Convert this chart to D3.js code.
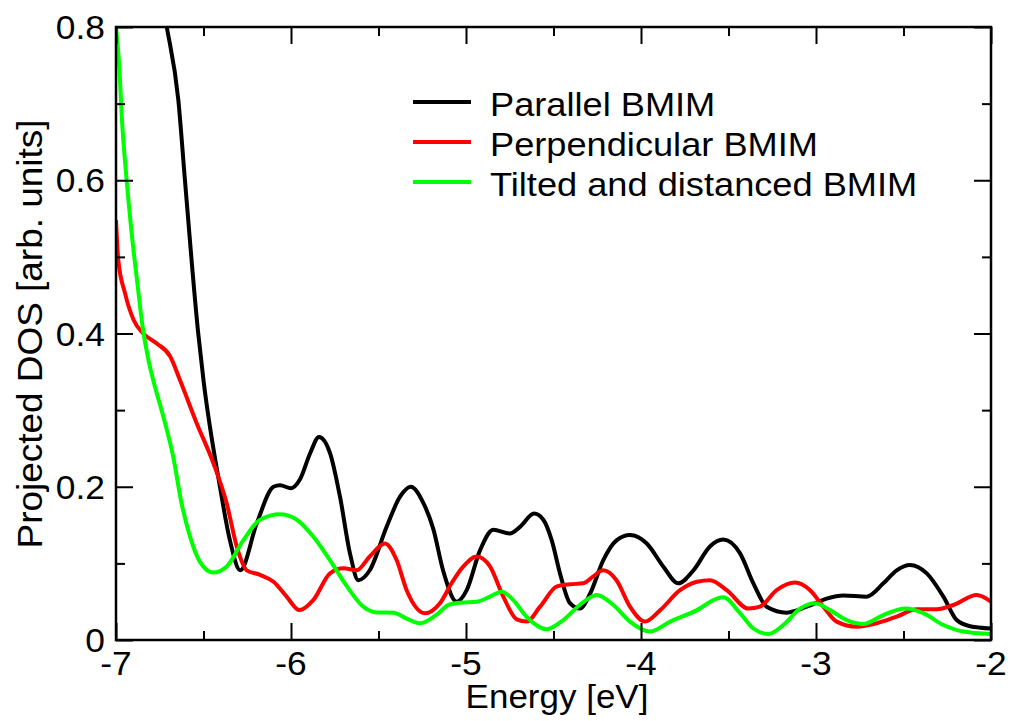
<!DOCTYPE html>
<html><head><meta charset="utf-8">
<script src="https://cdn.jsdelivr.net/npm/d3@7"></script>
<style>html,body{margin:0;padding:0;background:#fff;}</style>
</head><body>
<svg id="c" width="1013" height="721"></svg>
<script>
// Data (Energy [eV], Projected DOS)
const parallelE = [-6.76,-6.71,-6.644,-6.606,-6.53,-6.50,-6.406,-6.349,-6.29,-6.196,-6.10,-6.063,-6.0,-5.95,-5.89,-5.84,-5.777,-5.72,-5.663,-5.615,-5.55,-5.453,-5.377,-5.316,-5.244,-5.187,-5.13,-5.053,-4.996,-4.92,-4.844,-4.75,-4.69,-4.611,-4.558,-4.51,-4.463,-4.406,-4.35,-4.29,-4.216,-4.14,-4.063,-3.967,-3.873,-3.787,-3.7,-3.606,-3.53,-3.434,-3.358,-3.282,-3.167,-3.053,-2.939,-2.844,-2.71,-2.615,-2.539,-2.463,-2.367,-2.272,-2.196,-2.12,-2.0];
const parallelV = [0.86,0.80,0.705,0.60,0.40,0.339,0.20,0.13,0.091,0.152,0.20,0.202,0.198,0.209,0.244,0.265,0.244,0.187,0.113,0.078,0.091,0.148,0.187,0.20,0.179,0.145,0.09,0.05,0.065,0.117,0.144,0.139,0.148,0.165,0.157,0.13,0.087,0.048,0.041,0.061,0.104,0.13,0.137,0.126,0.096,0.074,0.091,0.122,0.131,0.113,0.074,0.0435,0.0357,0.0435,0.054,0.058,0.0566,0.074,0.091,0.098,0.087,0.0566,0.026,0.018,0.015];

const perpE = [-7.0,-6.987,-6.949,-6.9,-6.844,-6.767,-6.69,-6.634,-6.539,-6.444,-6.367,-6.31,-6.253,-6.177,-6.1,-6.025,-5.952,-5.873,-5.777,-5.70,-5.625,-5.55,-5.463,-5.396,-5.339,-5.234,-5.149,-5.08,-5.015,-4.939,-4.863,-4.787,-4.71,-4.653,-4.577,-4.48,-4.406,-4.33,-4.273,-4.216,-4.14,-4.063,-3.977,-3.89,-3.777,-3.68,-3.606,-3.51,-3.386,-3.32,-3.225,-3.12,-3.034,-2.958,-2.882,-2.767,-2.653,-2.539,-2.425,-2.31,-2.215,-2.082,-2.0];
const perpV = [0.548,0.496,0.453,0.418,0.40,0.387,0.37,0.339,0.283,0.231,0.178,0.122,0.091,0.085,0.076,0.0566,0.039,0.052,0.087,0.0936,0.091,0.109,0.126,0.104,0.065,0.035,0.048,0.075,0.096,0.109,0.096,0.0566,0.027,0.024,0.0435,0.07,0.0727,0.074,0.083,0.091,0.078,0.0435,0.024,0.039,0.065,0.076,0.078,0.065,0.041,0.0435,0.065,0.075,0.065,0.0435,0.024,0.0174,0.0218,0.0305,0.040,0.040,0.0457,0.0587,0.05];

const tiltE = [-7.0,-6.981,-6.967,-6.939,-6.91,-6.878,-6.848,-6.815,-6.787,-6.73,-6.673,-6.625,-6.577,-6.52,-6.444,-6.367,-6.273,-6.177,-6.063,-5.967,-5.873,-5.777,-5.68,-5.587,-5.51,-5.415,-5.339,-5.263,-5.168,-5.1,-5.034,-4.939,-4.863,-4.796,-4.73,-4.653,-4.539,-4.444,-4.35,-4.253,-4.158,-4.063,-3.949,-3.834,-3.68,-3.566,-3.53,-3.434,-3.358,-3.272,-3.187,-3.091,-3.005,-2.92,-2.825,-2.73,-2.615,-2.49,-2.387,-2.272,-2.158,-2.0];
const tiltV = [0.80,0.748,0.683,0.60,0.53,0.466,0.409,0.366,0.339,0.292,0.239,0.178,0.135,0.102,0.088,0.096,0.13,0.157,0.164,0.157,0.135,0.104,0.07,0.0435,0.036,0.0357,0.028,0.0218,0.033,0.0457,0.0487,0.05,0.0566,0.063,0.052,0.030,0.014,0.026,0.0457,0.0587,0.0457,0.024,0.011,0.024,0.039,0.054,0.0557,0.035,0.015,0.0078,0.0196,0.041,0.048,0.039,0.026,0.0209,0.0326,0.041,0.035,0.0196,0.011,0.0078];

const seriesNames = ["Parallel BMIM","Perpendicular BMIM","Tilted and distanced BMIM"];
const seriesColors = ["#000000","#ff0000","#00ff00"];
const xTickValues = [-7,-6,-5,-4,-3,-2];
const xTickLabels = ["-7","-6","-5","-4","-3","-2"];
const yTickValues = [0,0.2,0.4,0.6,0.8];
const yTickLabels = ["0","0.2","0.4","0.6","0.8"];
const xMinorValues = [-6.5,-5.5,-4.5,-3.5,-2.5];
const yMinorValues = [0.1,0.3,0.5,0.7];

const L = 116, R = 991, T = 27, B = 640;
const svg = d3.select("#c");
const x = d3.scaleLinear().domain([-7,-2]).range([L,R]);
const y = d3.scaleLinear().domain([0,0.8]).range([B,T]);
const FONT = "'Liberation Sans', Arial, Helvetica, sans-serif";

function addText(parent, px, py, str, size, anchor, sx, rot){
  const gg = parent.append("g")
    .attr("transform", `translate(${px},${py})` + (rot ? ` rotate(${rot})` : "") + ` scale(${sx},1)`);
  gg.append("text").attr("x",0).attr("y",0).attr("text-anchor",anchor)
    .attr("font-family",FONT).attr("font-size",size).attr("fill","#000").text(str);
  return gg;
}

svg.append("defs").append("clipPath").attr("id","clip")
  .append("rect").attr("x",L).attr("y",T).attr("width",R-L).attr("height",B-T);

const series = [
  {E: parallelE, V: parallelV},
  {E: perpE, V: perpV},
  {E: tiltE, V: tiltV}
];
const line = d3.line().x(d=>x(d[0])).y(d=>y(d[1])).curve(d3.curveMonotoneX);
const g = svg.append("g").attr("clip-path","url(#clip)");
[0,1,2].forEach(i=>{
  const s = series[i];
  g.append("path").datum(s.E.map((e,k)=>[e,s.V[k]]))
    .attr("d",line).attr("fill","none").attr("stroke",seriesColors[i])
    .attr("stroke-width",4).attr("stroke-linejoin","round");
});

// Axes with inward ticks
const MAJ = 17, MIN = 9;
function styleAxis(sel){
  sel.select(".domain").remove();
  sel.selectAll("line").attr("stroke","#000").attr("stroke-width",2);
}
svg.append("g").attr("transform",`translate(0,${B})`)
  .call(d3.axisTop(x).tickValues(xTickValues).tickSize(MAJ).tickFormat("")).call(styleAxis);
svg.append("g").attr("transform",`translate(0,${B})`)
  .call(d3.axisTop(x).tickValues(xMinorValues).tickSize(MIN).tickFormat("")).call(styleAxis);
svg.append("g").attr("transform",`translate(0,${T})`)
  .call(d3.axisBottom(x).tickValues(xTickValues).tickSize(MAJ).tickFormat("")).call(styleAxis);
svg.append("g").attr("transform",`translate(0,${T})`)
  .call(d3.axisBottom(x).tickValues(xMinorValues).tickSize(MIN).tickFormat("")).call(styleAxis);
svg.append("g").attr("transform",`translate(${L},0)`)
  .call(d3.axisRight(y).tickValues(yTickValues).tickSize(MAJ).tickFormat("")).call(styleAxis);
svg.append("g").attr("transform",`translate(${L},0)`)
  .call(d3.axisRight(y).tickValues(yMinorValues).tickSize(MIN).tickFormat("")).call(styleAxis);
svg.append("g").attr("transform",`translate(${R},0)`)
  .call(d3.axisLeft(y).tickValues(yTickValues).tickSize(MAJ).tickFormat("")).call(styleAxis);
svg.append("g").attr("transform",`translate(${R},0)`)
  .call(d3.axisLeft(y).tickValues(yMinorValues).tickSize(MIN).tickFormat("")).call(styleAxis);

// frame
svg.append("rect").attr("x",L).attr("y",T).attr("width",R-L).attr("height",B-T)
  .attr("fill","none").attr("stroke","#000").attr("stroke-width",2.5);

// tick labels
const tl = svg.append("g");
xTickValues.forEach((d,i)=> addText(tl, x(d), 675, xTickLabels[i], 34, "middle", 1.04));
yTickValues.forEach((d,i)=> addText(tl, 105, y(d)+12, yTickLabels[i], 34, "end", 1.04));

// axis titles
addText(svg, 557, 708, "Energy [eV]", 33, "middle", 1.06);
addText(svg, 42, 334, "Projected DOS [arb. units]", 35, "middle", 1.055, -90);

// legend
const lg = svg.append("g");
seriesNames.forEach((n,i)=>{
  const yy = 102 + i*40;
  lg.append("line").attr("x1",413).attr("x2",471).attr("y1",yy).attr("y2",yy)
    .attr("stroke",seriesColors[i]).attr("stroke-width",4);
  addText(lg, 490, yy+14, n, 34, "start", 1.065);
});
</script>
</body></html>
